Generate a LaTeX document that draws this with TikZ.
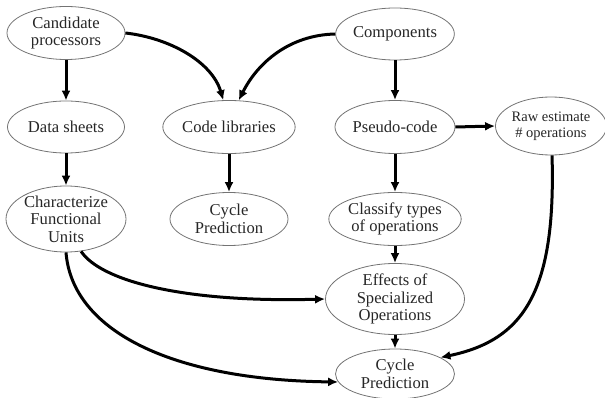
\documentclass[tikz,border=0pt]{standalone}
\usepackage{fontspec}
\setmainfont{Liberation Serif}
\usetikzlibrary{shapes.geometric,arrows.meta}
\begin{document}
\begin{tikzpicture}[x=1pt,y=-1pt,
  ell/.style={ellipse,draw=black!55,line width=0.8pt,inner sep=0pt,align=center,
    font=\fontsize{16.6}{17.5}\selectfont,text=black!85},
  arr/.style={line width=3pt,-{Latex[length=10pt,width=9pt]}}]
\useasboundingbox (0,0) rectangle (605,398);
\node[ell,minimum width=118pt,minimum height=53pt] (cand) at (66,33) {Candidate\\processors};
\node[ell,minimum width=118pt,minimum height=52pt] (comp) at (395,34) {Components};
\node[ell,minimum width=117pt,minimum height=52pt] (data) at (66,127) {Data sheets};
\node[ell,minimum width=118pt,minimum height=53pt] (code) at (229,127) {Code libraries};
\node[ell,minimum width=120pt,minimum height=53pt] (pseudo) at (395,127) {Pseudo-code};
\node[ell,minimum width=108pt,minimum height=58pt,font=\fontsize{14.5}{16}\selectfont] (raw) at (551,126) {Raw estimate\\\# operations};
\node[ell,minimum width=120pt,minimum height=62pt] (char) at (66,219) {Characterize\\Functional\\Units};
\node[ell,minimum width=118pt,minimum height=53pt] (cyc1) at (229,219) {Cycle\\Prediction};
\node[ell,minimum width=119pt,minimum height=53pt] (class) at (395,219) {Classify types\\of operations};
\node[ell,minimum width=139pt,minimum height=65pt] (eff) at (395,299) {Effects of\\Specialized\\Operations};
\node[ell,minimum width=119pt,minimum height=50pt] (cyc2) at (395,374) {Cycle\\Prediction};
\draw[arr] (cand.south) -- (data.north);
\draw[arr] (data.south) -- (char.north);
\draw[arr] (code.south) -- (cyc1.north);
\draw[arr] (comp.south) -- (pseudo.north);
\draw[arr] (pseudo.south) -- (class.north);
\draw[arr] (class.south) -- (eff.north);
\draw[arr] (eff.south) -- (cyc2.north);
\draw[arr] (pseudo.east) -- (raw.west);
\draw[arr] (cand.east) .. controls (170,38) and (212,62) .. (code.102);
\draw[arr] (comp.west) .. controls (290,35) and (258,62) .. (code.70);
\draw[arr] (char.-65) .. controls (100,280) and (180,303) .. (eff.west);
\draw[arr] (char.-90) .. controls (72,330) and (170,380) .. (cyc2.188);
\draw[arr] (raw.-88) .. controls (556,290) and (525,340) .. (cyc2.20);
\end{tikzpicture}
\end{document}
